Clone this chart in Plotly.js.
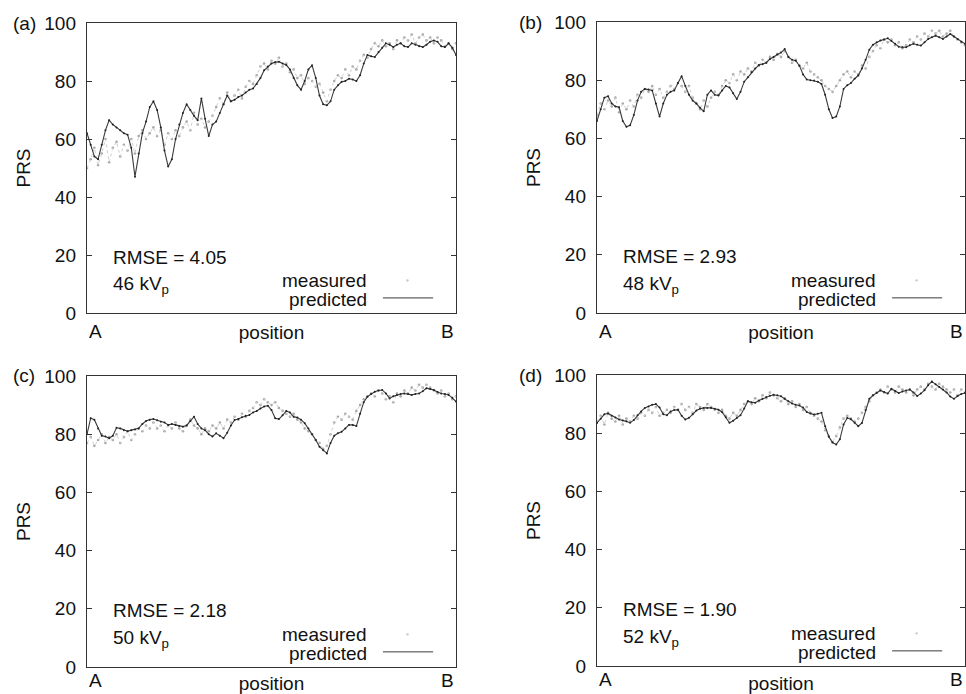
<!DOCTYPE html>
<html>
<head>
<meta charset="utf-8">
<script src="https://cdn.plot.ly/plotly-3.0.1.min.js"></script>
<style>html,body{margin:0;padding:0;background:#fff;}#chart{width:966px;height:694px;}</style>
</head>
<body>
<div id="chart"></div>
<script>
// Position index along the scan line from A (0) to B (100)
const position = [0,1,2,3,4,5,6,7,8,9,10,11,12,13,14,15,16,17,18,19,20,21,22,23,24,25,26,27,28,29,30,31,32,33,34,35,36,37,38,39,40,41,42,43,44,45,46,47,48,49,50,51,52,53,54,55,56,57,58,59,60,61,62,63,64,65,66,67,68,69,70,71,72,73,74,75,76,77,78,79,80,81,82,83,84,85,86,87,88,89,90,91,92,93,94,95,96,97,98,99,100];

const panelLabels = ["(a)", "(b)", "(c)", "(d)"];
const voltages = ["46", "48", "50", "52"];
const rmse = ["4.05", "2.93", "2.18", "1.90"];

// (a) 46 kVp
const measuredA = [50,53,57,51,55,60,52,57,59,54,58,56,60,55,61,63,60,62,64,61,63,58,62,60,63,61,64,66,63,69,65,67,64,66,68,71,74,72,76,73,75,77,74,78,80,79,82,85,86,84,87,86,88,85,86,83,84,81,82,79,81,80,78,79,76,73,77,80,82,81,84,82,85,84,87,89,88,91,93,92,94,92,93,91,94,93,95,94,96,93,95,96,94,95,93,95,94,92,93,91,93];
const predictedA = [62,58,54,53,58,63,66.5,65,64,63,62,61.5,57,47,55,62,66,71,73,70,64,56,50.5,53,60,65,69,72,70,68,66.5,74,67,61,65,66,69,72,75,73,73.5,74.5,75,76,77,77.4,79,81,83.7,85,86,86.5,86.6,86,85.5,84,81,78.5,77,80,84,85.4,81,75,72,71.6,73,77,78.5,79.7,80,80.8,80.5,80,82,86,89,88.5,88.3,90,91.5,93,92.5,91.7,92.5,93,92,91.7,93,92.5,92,91.7,92.5,93.5,94,93.5,92,91.7,93,91.5,89];

// (b) 48 kVp
const measuredB = [68,72,70,73,71,74,69,72,70,73,71,75,74,77,76,78,75,77,74,76,78,77,79,78,76,78,74,72,70,73,71,74,76,75,78,80,79,82,80,83,82,84,83,86,85,87,86,88,87,89,88,90,88,86,87,85,84,86,83,82,81,80,78,77,76,78,80,82,83,81,83,82,85,84,88,90,92,91,94,93,94,92,93,91,92,94,93,95,94,96,95,97,96,97,95,96,97,95,94,93,92];
const predictedB = [66,70,74,74.5,72,71,70.7,66,64,64.5,68,73,76,77,76.8,76.5,72,67.5,72,75,76,76.5,79,81.4,78,75,73,72,70.5,69.3,75,76.5,75,74.7,76.5,78,77.5,75.5,73.5,76,79.5,81,82.7,84,85.2,85.5,86,87.3,88,88.8,89.5,90.7,88,87,86.7,85,82,80.2,80,79.9,79.5,78.7,75,70,67,67.5,71,77,78.3,79,80.5,81.6,84,87,90.5,92.2,93,93.6,94,94.4,93.5,92.5,91.5,91.3,91.3,92,92.5,92.2,91.9,93,94.2,94.8,95.3,94.8,94.2,95,95.9,95,94.2,93.2,92.5];

// (c) 50 kVp
const measuredC = [77,79,76,78,80,77,79,78,80,77,79,81,78,80,82,81,83,82,84,82,83,81,83,82,84,82,81,83,85,83,82,80,82,81,83,82,84,82,85,84,86,85,87,86,88,89,91,90,92,91,90,91,89,88,87,86,87,85,84,82,81,80,78,77,75,76,80,84,86,85,87,86,85,88,90,92,93,94,93,95,94,92,93,91,94,93,95,94,96,95,97,96,97,96,95,94,95,93,94,92,93];
const predictedC = [80,85.5,85,82,79.5,79.2,78.6,79.5,82.2,82,81.4,81,81.4,81.6,82,83.5,84.5,85,85.2,84.8,84.3,84,83.2,83.5,83.2,82.8,82.6,83,84.5,86,83.5,82,81.4,80,79.2,80.3,79.5,78.6,80.5,83,84.9,85.2,85.8,86.3,86.6,87.5,88,88.8,89.5,89.8,88.3,85.5,85.2,86.5,88,87.5,86,85.7,85,83.8,82,80,78,75.7,74.5,73.4,77,79.5,80.3,80.8,82,83.2,83.2,82.8,87,91,92.9,93.8,94.6,95,95.2,94,92.3,93,93.5,93.8,94,93.8,93.5,93.8,94,94.8,95.8,95.5,95.2,94.5,94,93.8,93.5,92.5,91.2];

// (d) 52 kVp
const measuredD = [84,86,83,87,85,84,86,83,85,84,86,85,87,86,88,87,89,86,87,88,87,89,88,90,88,89,87,90,89,88,90,89,88,87,88,86,85,87,86,88,90,91,90,92,91,93,92,94,93,92,91,92,90,91,89,90,88,89,87,86,85,84,81,79,77,79,82,85,86,85,84,85,87,89,91,93,94,95,94,96,95,94,96,95,94,95,93,95,96,95,97,96,95,97,96,95,94,95,93,95,94];
const predictedD = [83.5,85,86.5,86.8,86,85.4,84.7,84.4,84.1,83.6,84.5,86.2,87.5,88.7,89.2,89.8,90,88.8,86.5,86.2,87.5,88,88.1,86,84.7,85.3,86.5,87.8,88.4,88.7,88.7,88.7,88.4,88.1,87.2,85.5,83.6,84.3,85.2,86.2,88.5,91,90.6,90.5,91.2,91.8,92.4,92.9,93.2,93,92.7,91.8,91,90.2,89.8,89.5,88.8,87.3,86.8,86.4,86.7,87,82.4,78.8,76.8,76.1,77.9,83,85.2,84.8,83.6,82.4,83.5,88,91.8,93,93.8,94.7,94.2,93.6,95.3,94.5,93.8,94.3,94.7,95,94,92.8,93.6,94.8,96.5,97.8,96.8,95.9,95,94,92.6,91.8,92.8,93.5,93.8];

const measured = [measuredA, measuredB, measuredC, measuredD];
const predicted = [predictedA, predictedB, predictedC, predictedD];
const yTicks = [0, 20, 40, 60, 80, 100];

const FONT = '"Liberation Sans", Arial, Helvetica, sans-serif';
const FS = 19;

// panel geometry (pixels in a 966x694 page)
const W = 966, H = 694;
const boxes = [
  {l: 87, r: 456, t: 23, b: 313, lab: 11, ab: -0.02, st: 12},
  {l: 597, r: 965, t: 22, b: 313, lab: 517, ab: -0.02, st: 12},
  {l: 87, r: 456, t: 376, b: 667, lab: 11, ab: -0.002, st: 10},
  {l: 597, r: 965, t: 375, b: 666, lab: 517, ab: -0.002, st: 10}
];

const traces = [];
const layout = {
  width: W, height: H,
  margin: {l: 0, r: 0, t: 0, b: 0},
  paper_bgcolor: '#fff', plot_bgcolor: '#fff',
  font: {family: FONT, size: FS, color: '#111'},
  showlegend: false,
  annotations: [], shapes: []
};

boxes.forEach((bx, i) => {
  const n = i + 1;
  const xs = n === 1 ? '' : String(n);
  const xa = 'x' + xs, ya = 'y' + xs;
  traces.push({
    x: position, y: measured[i], xaxis: xa, yaxis: ya, name: 'measured',
    type: 'scatter', mode: 'markers',
    marker: {size: 2.6, color: '#a8a8a8'}
  });
  traces.push({
    x: position, y: measured[i], xaxis: xa, yaxis: ya, name: 'measured',
    type: 'scatter', mode: 'lines', hoverinfo: 'skip',
    line: {color: '#cfcfcf', width: 1, dash: 'dot'}
  });
  traces.push({
    x: position, y: predicted[i], xaxis: xa, yaxis: ya, name: 'predicted',
    type: 'scatter', mode: 'lines+markers',
    line: {color: '#3a3a3a', width: 1.1},
    marker: {size: 2, color: '#222'}
  });
  layout['xaxis' + xs] = {
    domain: [bx.l / W, bx.r / W], anchor: ya, range: [0, 100],
    showline: true, mirror: true, linecolor: '#333', linewidth: 1.2,
    showgrid: false, zeroline: false, ticks: '', showticklabels: false,
    title: {text: 'position', font: {size: FS}, standoff: bx.st}
  };
  layout['yaxis' + xs] = {
    domain: [1 - bx.b / H, 1 - bx.t / H], anchor: xa, range: [0, 100],
    tickvals: yTicks, ticks: 'inside', ticklen: 5, tickcolor: '#333',
    showline: true, mirror: 'ticks', linecolor: '#333', linewidth: 1.2,
    showgrid: false, zeroline: false, tickfont: {size: FS},
    ticklabelstandoff: 6,
    title: {text: 'PRS', font: {size: FS}, standoff: 8}
  };
  const xd = xa + ' domain', yd = ya + ' domain';
  layout.annotations.push(
    {xref: 'paper', yref: 'paper', x: bx.lab / W, y: 1 - bx.t / H, xanchor: 'left', yanchor: 'middle',
     text: panelLabels[i], showarrow: false, font: {size: FS}},
    {xref: xd, yref: yd, x: 0.066, y: 0.193, xanchor: 'left', yanchor: 'middle',
     text: 'RMSE = ' + rmse[i], showarrow: false, font: {size: FS}},
    {xref: xd, yref: yd, x: 0.066, y: 0.097, xanchor: 'left', yanchor: 'middle',
     text: voltages[i] + ' kV<sub>p</sub>', showarrow: false, font: {size: FS}},
    {xref: xd, yref: yd, x: 0.764, y: 0.112, xanchor: 'right', yanchor: 'middle',
     text: 'measured', showarrow: false, font: {size: FS}},
    {xref: xd, yref: yd, x: 0.764, y: 0.048, xanchor: 'right', yanchor: 'middle',
     text: 'predicted', showarrow: false, font: {size: FS}},
    {xref: xd, yref: yd, x: 0, y: bx.ab, xanchor: 'left', yanchor: 'top',
     text: 'A', showarrow: false, font: {size: FS}},
    {xref: xd, yref: yd, x: 1, y: bx.ab, xanchor: 'right', yanchor: 'top',
     text: 'B', showarrow: false, font: {size: FS}}
  );
  layout.shapes.push(
    {type: 'line', xref: xd, yref: yd, x0: 0.802, x1: 0.938, y0: 0.052, y1: 0.052,
     line: {color: '#3a3a3a', width: 1}},
    {type: 'circle', xref: xd, yref: yd, x0: 0.865, x1: 0.872, y0: 0.108, y1: 0.116,
     fillcolor: '#c8c8c8', line: {width: 0}}
  );
});

Plotly.newPlot('chart', traces, layout, {displayModeBar: false, staticPlot: true});
</script>
</body>
</html>
